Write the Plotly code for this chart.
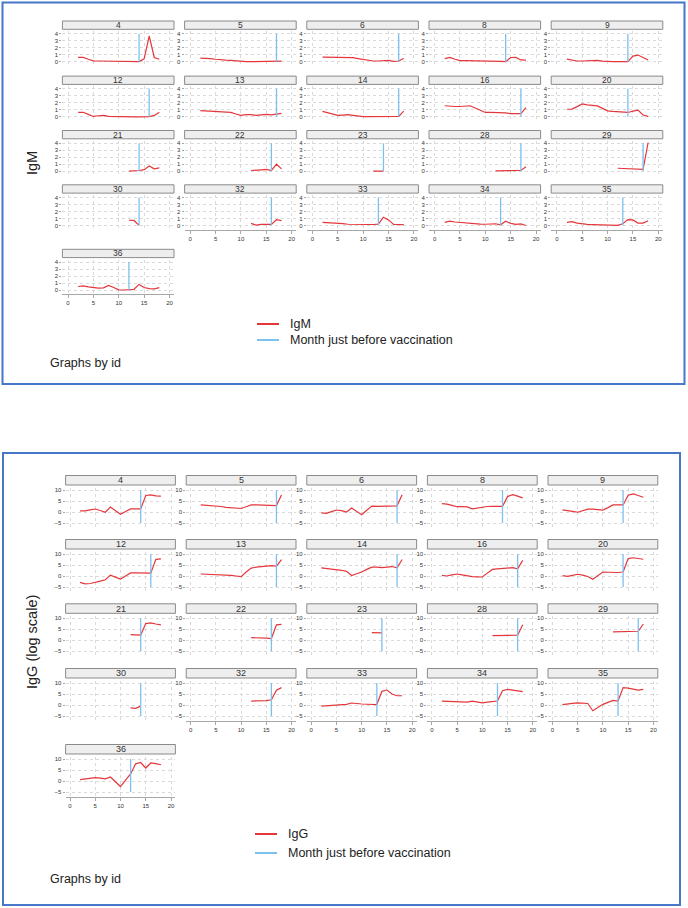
import plotly.graph_objects as go

W, H = 688, 908
FONT = "Liberation Sans, Arial, sans-serif"

# ---------------- data ----------------
ids = [4, 5, 6, 8, 9, 12, 13, 14, 16, 20, 21, 22, 23, 28, 29, 30, 32, 33, 34, 35, 36]
vacc_month = [14, 17, 17, 14, 14, 16, 17, 17, 17, 14, 14, 16, 14, 17, 17, 14, 16, 13, 13, 13, 12]
first_month = [2, 2, 2, 2, 2, 2, 2, 2, 2, 2, 12, 12, 12, 12, 12, 12, 12, 2, 2, 2, 2]

igm_4 = [0.62, 0.62, 0.35, 0.12, 0.1, 0.1, 0.07, 0.04, 0.01, 0, 0, 0, 0.02, 0.4, 3.67, 0.6, 0.35]
igm_5 = [0.5, 0.52, 0.45, 0.35, 0.25, 0.22, 0.2, 0.1, 0.02, 0, 0, 0, 0, 0, 0.05, 0.08, 0.07]
igm_6 = [0.65, 0.65, 0.65, 0.63, 0.62, 0.6, 0.58, 0.45, 0.3, 0.15, 0.1, 0.1, 0.12, 0.2, 0.05, 0.1, 0.45]
igm_8 = [0.45, 0.62, 0.35, 0.15, 0.15, 0.15, 0.15, 0.13, 0.12, 0.12, 0.1, 0.05, 0, 0.6, 0.62, 0.25, 0.22]
igm_9 = [0.38, 0.2, 0.1, 0.1, 0.12, 0.15, 0.18, 0.08, 0.02, 0.02, 0.02, 0.02, 0.02, 0.8, 0.95, 0.6, 0.25]
igm_12 = [0.62, 0.65, 0.35, 0.05, 0.15, 0.2, 0.05, 0.02, 0, 0, 0, 0, 0, 0, 0.02, 0.2, 0.65]
igm_13 = [0.88, 0.85, 0.82, 0.75, 0.7, 0.7, 0.62, 0.4, 0.2, 0.3, 0.32, 0.2, 0.3, 0.35, 0.28, 0.4, 0.5]
igm_14 = [0.78, 0.6, 0.4, 0.2, 0.25, 0.3, 0.2, 0.08, 0.03, 0.02, 0.02, 0.02, 0.02, 0.03, 0.05, 0.05, 0.8]
igm_16 = [1.58, 1.5, 1.47, 1.47, 1.5, 1.58, 1.25, 0.9, 0.62, 0.62, 0.62, 0.6, 0.55, 0.45, 0.45, 0.45, 1.32]
igm_20 = [1.08, 1.1, 1.45, 1.85, 1.7, 1.6, 1.55, 1.2, 0.85, 0.78, 0.72, 0.65, 0.62, 0.8, 0.95, 0.25, 0.05]
igm_21 = [0.02, 0.05, 0.1, 0.22, 0.75, 0.35, 0.48]
igm_22 = [0.1, 0.1, 0.2, 0.25, 0.1, 1.0, 0.33]
igm_23 = [0.0, 0.02, 0.02]
igm_28 = [0.05, 0.05, 0.05, 0.05, 0.08, 0.12, 0.65]
igm_29 = [0.42, 0.38, 0.3, 0.25, 0.25, 0.25, 4.1]
igm_30 = [0.75, 0.72, 0.02]
igm_32 = [0.3, 0.05, 0.15, 0.15, 0.15, 0.82, 0.7]
igm_33 = [0.45, 0.43, 0.4, 0.35, 0.28, 0.18, 0.15, 0.14, 0.14, 0.14, 0.14, 0.2, 1.18, 0.8, 0.15, 0.15, 0.13]
igm_34 = [0.45, 0.62, 0.5, 0.42, 0.35, 0.3, 0.25, 0.2, 0.18, 0.18, 0.25, 0.1, 0.62, 0.3, 0.15, 0.22, 0.0]
igm_35 = [0.45, 0.55, 0.35, 0.2, 0.15, 0.13, 0.12, 0.1, 0.03, 0.0, 0.03, 0.25, 0.85, 0.8, 0.35, 0.35, 0.68]
igm_36 = [0.5, 0.6, 0.45, 0.32, 0.28, 0.3, 0.65, 0.35, 0.02, 0.0, 0.0, 0.1, 0.8, 0.35, 0.2, 0.15, 0.35]

igg_4 = [0.5, 0.55, 1.0, 1.35, 0.7, -0.1, 2.25, 0.6, -1.05, 0.2, 1.4, 1.4, 1.4, 7.5, 7.8, 7.3, 7.2]
igg_5 = [3.2, 3.1, 2.9, 2.8, 2.5, 2.1, 1.9, 1.7, 1.6, 2.4, 3.2, 3.2, 3.2, 3.2, 3.1, 2.9, 7.7]
igg_6 = [-0.4, -0.6, 0.2, 0.9, 0.6, 0.0, 1.8, 0.3, -1.2, 0.8, 2.7, 2.6, 2.6, 2.6, 2.7, 2.8, 7.8]
igg_8 = [3.8, 3.6, 3.0, 2.4, 2.4, 2.3, 1.4, 1.8, 2.2, 2.5, 2.6, 2.6, 2.6, 7.0, 7.9, 7.2, 6.4]
igg_9 = [1.0, 0.8, 0.3, -0.1, 0.5, 1.3, 1.3, 1.0, 0.9, 2.0, 3.2, 3.2, 3.2, 7.6, 8.2, 7.5, 6.7]
igg_12 = [-2.9, -3.6, -3.4, -3.0, -2.3, -1.7, 0.4, -0.5, -1.4, 0.0, 1.4, 1.4, 1.4, 1.3, 1.3, 7.6, 7.8]
igg_13 = [0.9, 0.85, 0.8, 0.75, 0.7, 0.6, 0.3, 0.0, -0.3, 1.8, 3.6, 4.0, 4.2, 4.7, 4.7, 4.5, 7.4]
igg_14 = [3.7, 3.5, 3.2, 2.9, 2.6, 2.1, 0.2, 1.0, 1.8, 3.0, 4.0, 4.0, 3.8, 4.0, 4.3, 3.7, 7.5]
igg_16 = [0.3, 0.0, 0.5, 0.9, 0.5, 0.0, -0.3, -0.4, -0.45, 1.3, 3.0, 3.2, 3.3, 3.5, 3.8, 3.3, 7.1]
igg_20 = [0.2, -0.2, 0.3, 0.8, 0.4, -0.2, -1.5, 0.2, 1.8, 1.7, 1.5, 1.6, 1.8, 7.9, 8.3, 8.0, 7.6]
igg_21 = [2.6, 2.6, 2.4, 7.6, 7.9, 7.4, 7.0]
igg_22 = [1.2, 1.2, 1.2, 1.0, 0.8, 7.0, 7.2]
igg_23 = [3.5, 3.5, 3.4]
igg_28 = [2.1, 2.1, 2.05, 2.0, 2.2, 2.3, 7.1]
igg_29 = [3.8, 3.9, 3.9, 3.8, 4.0, 4.1, 7.4]
igg_30 = [-1.3, -1.5, -0.5]
igg_32 = [1.8, 1.8, 1.8, 2.0, 2.4, 6.7, 7.9]
igg_33 = [-0.5, -0.4, -0.2, -0.1, 0.1, 0.3, 0.9, 0.6, 0.45, 0.35, 0.3, 0.2, 6.2, 6.8, 5.0, 4.2, 4.2]
igg_34 = [1.8, 1.7, 1.7, 1.8, 1.6, 1.3, 1.8, 1.4, 1.0, 1.3, 1.6, 1.8, 6.5, 7.1, 6.8, 6.5, 6.1]
igg_35 = [0.15, 0.3, 0.7, 1.0, 0.9, 0.7, -2.6, -1.2, 0.3, 1.2, 2.1, 1.8, 7.9, 7.7, 7.3, 6.8, 7.1]
igg_36 = [0.6, 0.9, 1.2, 1.5, 1.3, 1.0, 1.8, -0.4, -2.5, 0.4, 3.2, 7.8, 8.4, 5.9, 8.2, 7.9, 7.4]

igm_values = [igm_4, igm_5, igm_6, igm_8, igm_9, igm_12, igm_13, igm_14, igm_16, igm_20, igm_21,
              igm_22, igm_23, igm_28, igm_29, igm_30, igm_32, igm_33, igm_34, igm_35, igm_36]
igg_values = [igg_4, igg_5, igg_6, igg_8, igg_9, igg_12, igg_13, igg_14, igg_16, igg_20, igg_21,
              igg_22, igg_23, igg_28, igg_29, igg_30, igg_32, igg_33, igg_34, igg_35, igg_36]

x_ticks = [0, 5, 10, 15, 20]
igm_ticks = [0, 1, 2, 3, 4]
igg_ticks = [-5, 0, 5, 10]
igm_vline = [0, 4]
igg_vline = [-5, 10]

RED = "#e4373c"
BLUE = "#7cc0ef"
GRID = "#dadada"
AXC = "#a8a8a8"

fig = go.Figure()
shapes, annots = [], []
layout = {}


def px_x(p):
    return p / W


def px_y(p):
    return 1 - p / H


def chart(start_ax, values, yticks, vline, x0s, pxpm, ref_rows, ppu,
          pad_top, pad_bot, hdr_top, hdr_bot, hdr_pad_l, hdr_pad_r, hdr_font):
    for i, pid in enumerate(ids):
        k = start_ax + i
        r, c = divmod(i, 5)
        x0 = x0s[c]
        xl = x0 - hdr_pad_l
        xr = x0 + 20 * pxpm + hdr_pad_r
        yref = ref_rows[r]          # pixel of top tick value
        ymax_t = max(yticks)
        ymin_t = min(yticks)
        ybot_tick = yref + (ymax_t - ymin_t) * ppu
        yt = yref - pad_top
        yb = ybot_tick + pad_bot
        months = list(range(first_month[i], first_month[i] + len(values[i])))
        xa = f"x{k}" if k > 1 else "x"
        ya = f"y{k}" if k > 1 else "y"
        fig.add_trace(go.Scatter(x=months, y=values[i], mode="lines", xaxis=xa, yaxis=ya,
                                 line=dict(color=RED, width=1.2), showlegend=False,
                                 hoverinfo="skip"))
        fig.add_trace(go.Scatter(x=[vacc_month[i], vacc_month[i]], y=vline, mode="lines",
                                 xaxis=xa, yaxis=ya, line=dict(color=BLUE, width=1.3),
                                 showlegend=False, hoverinfo="skip"))
        show_x = i >= 16
        xname = "xaxis" if k == 1 else f"xaxis{k}"
        yname = "yaxis" if k == 1 else f"yaxis{k}"
        layout[xname] = dict(
            domain=[px_x(xl), px_x(xr)], anchor=ya,
            range=[(xl - x0) / pxpm, (xr - x0) / pxpm],
            tickvals=x_ticks, showgrid=True, gridcolor=GRID, griddash="dot", gridwidth=1,
            zeroline=False, showline=show_x, linecolor=AXC, linewidth=1,
            ticks="outside" if show_x else "", ticklen=3, tickcolor=AXC, tickwidth=1,
            showticklabels=show_x, tickfont=dict(size=6, color="#333", family=FONT),
            fixedrange=True,
        )
        layout[yname] = dict(
            domain=[px_y(yb), px_y(yt)], anchor=xa,
            range=[ymin_t - pad_bot / ppu, ymax_t + pad_top / ppu],
            tickvals=yticks, showgrid=True, gridcolor=GRID, griddash="dot", gridwidth=1,
            zeroline=False, showline=False, ticks="outside", ticklen=2, tickcolor=AXC,
            tickwidth=1, tickfont=dict(size=6, color="#333", family=FONT), fixedrange=True,
        )
        # header strip
        shapes.append(dict(type="rect", xref="paper", yref="paper",
                           x0=px_x(xl), x1=px_x(xr), y0=px_y(yref - hdr_bot), y1=px_y(yref - hdr_top),
                           fillcolor="#eeeeee", line=dict(color="#8a8a8a", width=1), layer="above"))
        annots.append(dict(text=str(pid), xref="paper", yref="paper",
                           x=px_x((xl + xr) / 2), y=px_y(yref - (hdr_top + hdr_bot) / 2),
                           showarrow=False, font=dict(size=hdr_font, color="#333", family=FONT),
                           xanchor="center", yanchor="middle"))


# top chart (IgM)
chart(1, igm_values, igm_ticks, igm_vline,
      x0s=[68, 190.2, 312.4, 434.6, 556.8], pxpm=5.075,
      ref_rows=[33.7, 88.8, 143.2, 197.5, 262], ppu=7,
      pad_top=2.5, pad_bot=4, hdr_top=12.7, hdr_bot=4.4, hdr_pad_l=5.6, hdr_pad_r=4.5, hdr_font=8.5)

# bottom chart (IgG)
chart(22, igg_values, igg_ticks, igg_vline,
      x0s=[70, 190.6, 311.2, 431.8, 552.4], pxpm=5.05,
      ref_rows=[490, 554, 618.3, 683, 759], ppu=2.2,
      pad_top=2.5, pad_bot=5, hdr_top=14.5, hdr_bot=5, hdr_pad_l=4.4, hdr_pad_r=4.4, hdr_font=9)


def seg(x1, x2, y, color, width):
    shapes.append(dict(type="line", xref="paper", yref="paper", x0=px_x(x1), x1=px_x(x2),
                       y0=px_y(y), y1=px_y(y), line=dict(color=color, width=width)))


def txt(s, x, y, size, anchor="left", angle=0):
    annots.append(dict(text=s, xref="paper", yref="paper", x=px_x(x), y=px_y(y),
                       showarrow=False, xanchor=anchor, yanchor="middle", textangle=angle,
                       font=dict(size=size, color="#222", family=FONT)))


seg(257, 279, 324, RED, 2)
seg(257, 279, 340, BLUE, 2)
txt("IgM", 288, 324, 12.5)
txt("Month just before vaccination", 288, 340, 12.5)
txt("Graphs by id", 48, 363, 12.5)
txt("IgM", 32, 163, 14.5, anchor="center", angle=-90)

seg(255, 277, 834, RED, 2)
seg(255, 277, 853, BLUE, 2)
txt("IgG", 286, 834, 12.5)
txt("Month just before vaccination", 286, 853, 12.5)
txt("Graphs by id", 48, 879, 12.5)
txt("IgG (log scale)", 32, 642, 14.5, anchor="center", angle=-90)

# framing boxes
shapes.append(dict(type="rect", xref="paper", yref="paper", x0=px_x(2.5), x1=px_x(684.5),
                   y0=px_y(384), y1=px_y(2.5), line=dict(color="#4677c8", width=2)))
shapes.append(dict(type="rect", xref="paper", yref="paper", x0=px_x(3), x1=px_x(680),
                   y0=px_y(905), y1=px_y(453), line=dict(color="#4677c8", width=2)))

fig.update_layout(
    width=W, height=H, margin=dict(l=0, r=0, t=0, b=0),
    paper_bgcolor="white", plot_bgcolor="white",
    showlegend=False, shapes=shapes, annotations=annots,
    font=dict(family=FONT),
    **layout,
)

fig.write_html("out.html", config={"displayModeBar": False},
               post_script="document.body.style.margin='0';document.body.style.overflow='hidden';")
